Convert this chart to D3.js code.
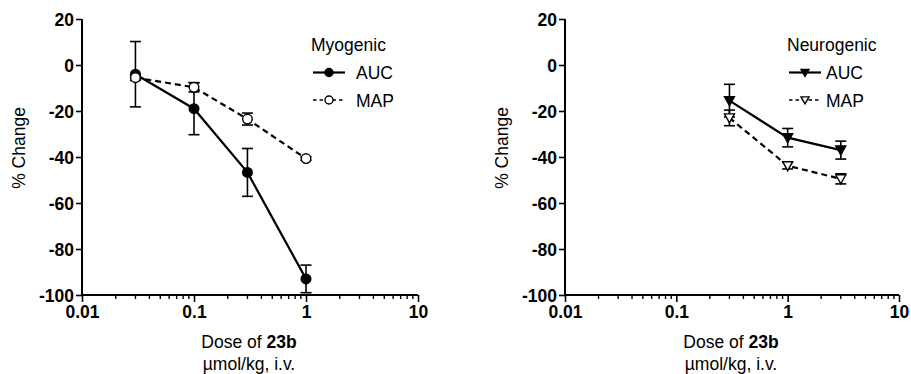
<!DOCTYPE html>
<html><head><meta charset="utf-8">
<script src="https://cdn.jsdelivr.net/npm/d3@7"></script>
<style>body{margin:0;background:#fff}svg{display:block}text{font-family:"Liberation Sans",Arial,sans-serif;fill:#000}</style>
</head><body><svg id="c" width="911" height="374"></svg>
<script>
// Data
const myoDose = [0.03, 0.1, 0.3, 1];
const myoAUC = [-4, -19, -46.7, -93];
const myoAUCerr = [14.2, 11.3, 10.4, 6];
const myoMAP = [-5.5, -9.7, -23.5, -40.7];
const myoMAPerr = [1.2, 2, 2.6, 0.8];
const neuDose = [0.3, 1, 3];
const neuAUC = [-15.5, -31.6, -37];
const neuAUCerr = [7.1, 4, 3.9];
const neuMAP = [-23, -43.8, -49.5];
const neuMAPerr = [3.4, 1.4, 2.2];
const xTicks = [0.01, 0.1, 1, 10];
const xTickLabels = ["0.01", "0.1", "1", "10"];
const yTicks = [20, 0, -20, -40, -60, -80, -100];
const yTickLabels = ["20", "0", "-20", "-40", "-60", "-80", "-100"];

const svg = d3.select("#c");
const yTop = 19, yBot = 295;

function panel(x0, x1, legendTitle, lx, series, marker) {
  const x = d3.scaleLog().domain([0.01, 10]).range([x0, x1]);
  const y = d3.scaleLinear().domain([-100, 20]).range([yBot, yTop]);
  const g = svg.append("g");
  // Y axis
  const ya = g.append("g").attr("transform", `translate(${x0},0)`)
    .call(d3.axisLeft(y).tickValues(yTicks).tickSize(6).tickPadding(2).tickFormat((d, i) => yTickLabels[i]));
  ya.select(".domain").attr("stroke-width", 2).attr("d", `M0,${yTop}V${yBot}`);
  ya.selectAll(".tick line").attr("stroke-width", 1.6);
  ya.selectAll(".tick text").attr("font-size", 17.5).attr("font-weight", "bold")
    .attr("font-family", "Liberation Sans, Arial, sans-serif").attr("dy", "0.36em");
  // X axis
  const minor = [];
  for (let e = -2; e < 1; e++) for (let k = 2; k <= 9; k++) minor.push(k * Math.pow(10, e));
  const xa = g.append("g").attr("transform", `translate(0,${yBot})`)
    .call(d3.axisBottom(x).tickValues(xTicks).tickSize(7).tickPadding(4).tickFormat((d, i) => xTickLabels[i]));
  xa.select(".domain").attr("stroke-width", 2).attr("d", `M${x0},0H${x1}`);
  xa.selectAll(".tick line").attr("stroke-width", 1.6);
  xa.selectAll(".tick text").attr("font-size", 17.5).attr("font-weight", "bold")
    .attr("font-family", "Liberation Sans, Arial, sans-serif");
  g.append("g").attr("transform", `translate(0,${yBot})`).selectAll("line").data(minor).join("line")
    .attr("x1", d => x(d)).attr("x2", d => x(d)).attr("y1", 0).attr("y2", 4)
    .attr("stroke", "#000").attr("stroke-width", 1.4);
  // Axis titles
  g.append("text").attr("transform", `translate(${x0 - 57},148) rotate(-90)`)
    .attr("text-anchor", "middle").attr("font-size", 17.5).text("% Change");
  const cx = (x0 + x1) / 2 - 1;
  const t = g.append("text").attr("x", cx).attr("y", 348).attr("text-anchor", "middle").attr("font-size", 17.5);
  t.append("tspan").text("Dose of ");
  t.append("tspan").attr("font-weight", "bold").text("23b");
  g.append("text").attr("x", cx).attr("y", 370).attr("text-anchor", "middle").attr("font-size", 17.5).text("µmol/kg, i.v.");

  // Series
  series.forEach(s => {
    const line = d3.line().x((d, i) => x(s.dose[i])).y(d => y(d));
    const eb = g.append("g");
    s.vals.forEach((v, i) => {
      const px = x(s.dose[i]);
      const yt = y(v + s.err[i]), yb = y(v - s.err[i]);
      eb.append("line").attr("x1", px).attr("x2", px).attr("y1", yt).attr("y2", yb).attr("stroke", "#000").attr("stroke-width", 1.6);
      [yt, yb].forEach(yy => eb.append("line").attr("x1", px - 5.5).attr("x2", px + 5.5).attr("y1", yy).attr("y2", yy).attr("stroke", "#000").attr("stroke-width", 1.6));
    });
    g.append("path").attr("d", line(s.vals)).attr("fill", "none").attr("stroke", "#000")
      .attr("stroke-width", 2.2).attr("stroke-dasharray", s.dashed ? "6,4" : null);
    s.vals.forEach((v, i) => marker(g, x(s.dose[i]), y(v), s.filled));
  });

  // Legend
  g.append("text").attr("x", lx).attr("y", 51).attr("font-size", 17.5).text(legendTitle);
  series.forEach((s, k) => {
    const ly = k === 0 ? 72.5 : 100;
    const lx0 = lx + 2, lx1 = lx + 34;
    g.append("line").attr("x1", lx0).attr("x2", lx1).attr("y1", ly).attr("y2", ly).attr("stroke", "#000")
      .attr("stroke-width", s.dashed ? 1.6 : 2.2).attr("stroke-dasharray", s.dashed ? "3.5,3" : null);
    marker(g, (lx0 + lx1) / 2, ly, s.filled, true);
    g.append("text").attr("x", lx1 + s.tx).attr("y", ly + 6.5).attr("font-size", 17.5).text(s.name);
  });
}

function circle(g, cx, cy, filled, small) {
  g.append("circle").attr("cx", cx).attr("cy", cy).attr("r", small ? 4 : 4.8)
    .attr("fill", filled ? "#000" : "#fff").attr("stroke", "#000").attr("stroke-width", 1.4);
}
function tri(g, cx, cy, filled, small) {
  const w = small ? 4 : 5, h = small ? 7 : 9;
  g.append("path").attr("d", `M${cx - w},${cy - h * 0.45}L${cx + w},${cy - h * 0.45}L${cx},${cy + h * 0.55}Z`)
    .attr("fill", filled ? "#000" : "#fff").attr("stroke", "#000").attr("stroke-width", 1.4);
}

panel(82, 418, "Myogenic", 311, [
  {name: "AUC", dose: myoDose, vals: myoAUC, err: myoAUCerr, filled: true, dashed: false, tx: 11},
  {name: "MAP", dose: myoDose, vals: myoMAP, err: myoMAPerr, filled: false, dashed: true, tx: 11}
], circle);
panel(565, 899, "Neurogenic", 787, [
  {name: "AUC", dose: neuDose, vals: neuAUC, err: neuAUCerr, filled: true, dashed: false, tx: 5},
  {name: "MAP", dose: neuDose, vals: neuMAP, err: neuMAPerr, filled: false, dashed: true, tx: 5}
], tri);
</script></body></html>
